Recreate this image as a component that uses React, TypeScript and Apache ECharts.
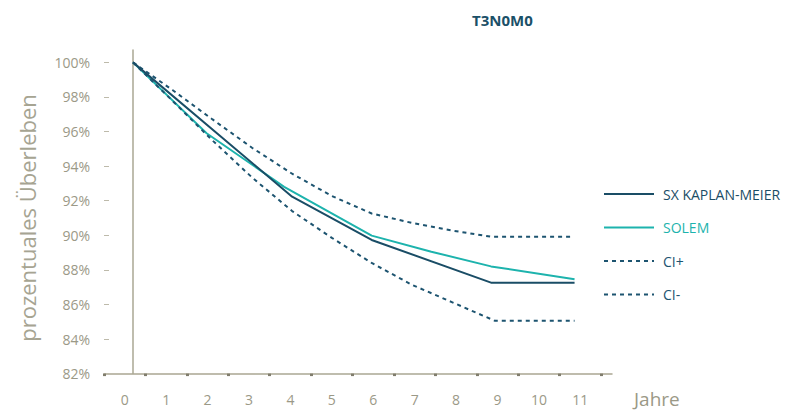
import React, { useEffect, useRef } from "react";
import * as echarts from "echarts";

const title = "T3N0M0";
const yAxisName = "prozentuales Überleben";
const xAxisName = "Jahre";
const yearLabels = ["0", "1", "2", "3", "4", "5", "6", "7", "8", "9", "10", "11"];
const yMinTick = 82;
const yMaxTick = 100;
const yStep = 2;

const kmYears = [0, 4, 6, 9, 11.1];
const kmValues = [100, 92.23, 89.73, 87.26, 87.26];

const solemYears = [0, 1.85, 3.8, 6, 7.5, 9, 11.1];
const solemValues = [100, 95.9, 92.8, 89.98, 89.05, 88.2, 87.46];

const ciPlusYears = [0, 1, 2, 3, 4, 5, 6, 7, 8, 9, 11];
const ciPlusValues = [100, 98.39, 96.7, 95.05, 93.56, 92.27, 91.26, 90.72, 90.28, 89.92, 89.92];

const ciMinusYears = [0, 1, 2, 3, 4, 5, 6, 7, 8, 9.1, 11.1];
const ciMinusValues = [100, 97.76, 95.48, 93.33, 91.4, 89.85, 88.4, 87.15, 86.15, 85.05, 85.05];

const seriesNames = ["SX KAPLAN-MEIER", "SOLEM", "CI+", "CI-"];

const DARK = "#1a4d66";
const TEAL = "#1db3ad";
const CI = "#1d5470";
const AXIS = "#aaa793";
const LABEL = "#9b9987";
const FONT = "'Open Sans', 'Noto Sans', sans-serif";

const pairs = (xs: number[], ys: number[]) => xs.map((x, i) => [x, ys[i]]);

export default function App() {
  const ref = useRef<HTMLDivElement>(null);
  useEffect(() => {
    if (!ref.current) return;
    const chart = echarts.init(ref.current, null, { renderer: "svg" });
    const pxPerPct = 17.29;
    const axisBottom = 373.6;
    const tickTop = axisBottom - (yMaxTick - yMinTick) * pxPerPct;
    const gridTop = 50;
    const gridHeight = axisBottom - gridTop;
    const yMax = yMinTick + gridHeight / pxPerPct;
    const pxPerYear = 39.78;
    const gridLeft = 104;
    const gridWidth = 508;
    const xMin = -(133 - gridLeft) / pxPerYear;
    const xMax = xMin + gridWidth / pxPerYear;

    chart.setOption({
      animation: false,
      textStyle: { fontFamily: FONT },
      title: {
        text: title,
        left: 472,
        top: 12,
        padding: 0,
        textStyle: { fontSize: 15, fontWeight: "bold", color: "#1b5068", fontFamily: FONT },
      },
      legend: {
        orient: "vertical",
        left: 603,
        top: 187,
        padding: 0,
        itemWidth: 50,
        itemHeight: 14,
        itemGap: 19.5,
        itemStyle: { opacity: 0 },
        textStyle: { fontSize: 14, fontFamily: FONT, padding: [0, 0, 0, 4] },
        data: [
          { name: seriesNames[0], textStyle: { color: DARK } },
          { name: seriesNames[1], textStyle: { color: TEAL } },
          { name: seriesNames[2], textStyle: { color: CI } },
          { name: seriesNames[3], textStyle: { color: CI } },
        ],
      },
      graphic: [
        {
          type: "text",
          left: 634,
          top: 389,
          style: { text: xAxisName, fontSize: 19, fill: LABEL, fontFamily: FONT },
        },
      ],
      grid: [
        { left: gridLeft, top: gridTop, width: gridWidth, height: gridHeight },
        { left: gridLeft, top: tickTop, width: 497, height: axisBottom - tickTop },
      ],
      xAxis: [
        {
          type: "value",
          gridIndex: 0,
          min: xMin,
          max: xMax,
          axisLine: { show: true, lineStyle: { color: AXIS, width: 1.5 } },
          axisTick: { show: false },
          axisLabel: { show: false },
          splitLine: { show: false },
        },
        {
          type: "category",
          gridIndex: 1,
          data: yearLabels,
          boundaryGap: true,
          axisLine: { show: false },
          axisTick: { show: true, inside: false, length: 2.5, lineStyle: { color: "#807d6d", width: 3 } },
          axisLabel: { show: true, margin: 19, fontSize: 14, color: LABEL, fontFamily: FONT },
          splitLine: { show: false },
        },
      ],
      yAxis: [
        {
          type: "value",
          gridIndex: 0,
          min: yMinTick,
          max: yMax,
          axisLine: { show: true, lineStyle: { color: AXIS, width: 1.5 } },
          axisTick: { show: false },
          axisLabel: { show: false },
          splitLine: { show: false },
        },
        {
          type: "value",
          gridIndex: 1,
          min: yMinTick,
          max: yMaxTick,
          interval: yStep,
          name: yAxisName,
          nameLocation: "middle",
          nameGap: 66,
          nameTextStyle: { fontSize: 22, color: "#a6a492", fontFamily: FONT },
          axisLine: { show: false },
          axisTick: {
            show: true,
            inside: true,
            length: 5,
            lineStyle: { color: "#bdbaaa", width: 1 },
          },
          axisLabel: {
            show: true,
            margin: 14,
            fontSize: 14,
            color: LABEL,
            fontFamily: FONT,
            formatter: "{value}%",
          },
          splitLine: { show: false },
        },
      ],
      series: [
        {
          name: seriesNames[0],
          type: "line",
          xAxisIndex: 0,
          yAxisIndex: 0,
          symbol: "none",
          data: pairs(kmYears, kmValues),
          lineStyle: { color: DARK, width: 2 },
          itemStyle: { color: DARK },
          z: 4,
        },
        {
          name: seriesNames[1],
          type: "line",
          xAxisIndex: 0,
          yAxisIndex: 0,
          symbol: "none",
          data: pairs(solemYears, solemValues),
          lineStyle: { color: TEAL, width: 2 },
          itemStyle: { color: TEAL },
          z: 3,
        },
        {
          name: seriesNames[2],
          type: "line",
          xAxisIndex: 0,
          yAxisIndex: 0,
          symbol: "none",
          data: pairs(ciPlusYears, ciPlusValues),
          lineStyle: { color: CI, width: 2, type: [4, 4] },
          itemStyle: { color: CI },
        },
        {
          name: seriesNames[3],
          type: "line",
          xAxisIndex: 0,
          yAxisIndex: 0,
          symbol: "none",
          data: pairs(ciMinusYears, ciMinusValues),
          lineStyle: { color: CI, width: 2, type: [4, 4] },
          itemStyle: { color: CI },
        },
      ],
    });
    return () => chart.dispose();
  }, []);
  return <div ref={ref} style={{ width: 790, height: 412, position: "absolute", left: 0, top: 0 }} />;
}
